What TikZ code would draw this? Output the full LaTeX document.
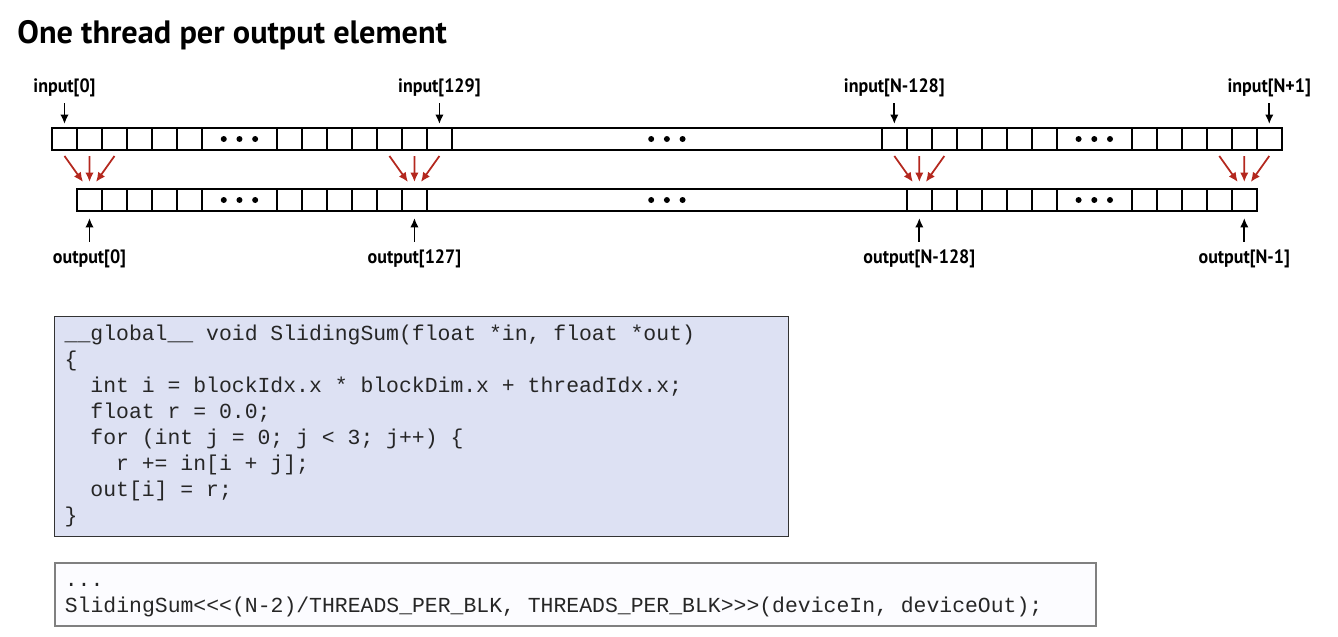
\documentclass[tikz,border=0pt]{standalone}
\usepackage{fontspec}
\setmonofont{Liberation Mono}
\newfontfamily\labfont[FakeStretch=0.93]{PT Sans}
\newfontfamily\titlefont{PT Sans}
\usetikzlibrary{arrows.meta,positioning}

\definecolor{codebg}{RGB}{221,225,243}
\definecolor{callbg}{RGB}{252,252,255}
\definecolor{arrowred}{RGB}{180,40,30}
\newcommand{\ind}{\hspace*{1.2em}}
\newcommand{\codespaces}{\spaceskip=0.6em\xspaceskip=0.6em\relax}

\begin{document}
\begin{tikzpicture}[x=0.02cm,y=-0.02cm,
    cell/.style={draw,line width=0.9pt,minimum width=0.5cm,minimum height=0.44cm,
                 inner sep=0pt,outer sep=0pt},
    gap/.style={cell,minimum width=1.5cm},
    lab/.style={font=\labfont\bfseries\fontsize{11pt}{12pt}\selectfont,
                inner sep=0pt,outer sep=0pt},
    codebox/.style={draw,anchor=north west,align=left,inner xsep=0.2cm,
                    font=\ttfamily\fontsize{12.2pt}{14.8pt}\selectfont,
                    text=black!85,
                    execute at begin node=\codespaces\strut,
                    execute at end node=\strut},
    red arrow/.style={->,draw=arrowred,line width=1pt},
    >={Latex[length=1.9mm,width=1.7mm]}]
  \useasboundingbox (0,0) rectangle (1338,636);

  % title
  \node[anchor=base west,font=\titlefont\bfseries\fontsize{18.4pt}{20pt}\selectfont,
        inner sep=0pt] (title) at (17,43) {One thread per output element};

  % input array
  \node[cell,anchor=west] (ia0) at (52,139) {};
  \foreach \k [remember=\k as \p (initially 0)] in {1,...,5}
    \node[cell,right=0pt of ia\p] (ia\k) {};
  \node[gap,right=0pt of ia5] (ida) {};
  \node[cell,right=0pt of ida] (ib0) {};
  \foreach \k [remember=\k as \p (initially 0)] in {1,...,6}
    \node[cell,right=0pt of ib\p] (ib\k) {};
  \node[cell,minimum width=8.6cm,right=0pt of ib6] (ilong) {};
  \node[cell,right=0pt of ilong] (ic0) {};
  \foreach \k [remember=\k as \p (initially 0)] in {1,...,6}
    \node[cell,right=0pt of ic\p] (ic\k) {};
  \node[gap,right=0pt of ic6] (idc) {};
  \node[cell,right=0pt of idc] (id0) {};
  \foreach \k [remember=\k as \p (initially 0)] in {1,...,5}
    \node[cell,right=0pt of id\p] (id\k) {};

  % output array
  \node[cell,anchor=west] (oa0) at (77,200) {};
  \foreach \k [remember=\k as \p (initially 0)] in {1,...,4}
    \node[cell,right=0pt of oa\p] (oa\k) {};
  \node[gap,right=0pt of oa4] (oda) {};
  \node[cell,right=0pt of oda] (ob0) {};
  \foreach \k [remember=\k as \p (initially 0)] in {1,...,5}
    \node[cell,right=0pt of ob\p] (ob\k) {};
  \node[cell,minimum width=9.6cm,right=0pt of ob5] (olong) {};
  \node[cell,right=0pt of olong] (oc0) {};
  \foreach \k [remember=\k as \p (initially 0)] in {1,...,5}
    \node[cell,right=0pt of oc\p] (oc\k) {};
  \node[gap,right=0pt of oc5] (odc) {};
  \node[cell,right=0pt of odc] (od0) {};
  \foreach \k [remember=\k as \p (initially 0)] in {1,...,4}
    \node[cell,right=0pt of od\p] (od\k) {};

  % dots
  \foreach \g in {ida,ilong,idc,oda,olong,odc}
    \foreach \s in {-1,0,1}
      \fill ([xshift=\s*0.314cm]\g) circle (0.06cm);

  % labels
  \node[lab,above=0.62cm of ia0] (lin0) {input[0]};
  \node[lab,above=0.62cm of ib6] (lin129) {input[129]};
  \node[lab,above=0.62cm of ic0] (linN128) {input[N-128]};
  \node[lab,above=0.62cm of id5] (linN1) {input[N+1]};
  \node[lab,below=0.78cm of oa0] (lout0) {output[0]};
  \node[lab,below=0.78cm of ob5] (lout127) {output[127]};
  \node[lab,below=0.78cm of oc0] (loutN128) {output[N-128]};
  \node[lab,below=0.78cm of od4] (loutN1) {output[N-1]};

  \foreach \l/\c in {lin0/ia0,lin129/ib6,linN128/ic0,linN1/id5}
    \draw[->,line width=1pt,shorten <=0.12cm,shorten >=0.08cm] (\l) -- (\c);
  \foreach \l/\c in {lout0/oa0,lout127/ob5,loutN128/oc0,loutN1/od4}
    \draw[->,line width=1pt,shorten <=0.16cm,shorten >=0.14cm] (\l) -- (\c);

  % three inputs per output
  \foreach \a/\b/\c/\o in {ia0/ia1/ia2/oa0,ib4/ib5/ib6/ob5,ic0/ic1/ic2/oc0,id3/id4/id5/od4} {
    \draw[red arrow] ([yshift=-0.12cm]\a.south) -- ([xshift=-0.13cm,yshift=0.14cm]\o.north);
    \draw[red arrow] ([yshift=-0.12cm]\b.south) -- ([yshift=0.14cm]\o.north);
    \draw[red arrow] ([yshift=-0.12cm]\c.south) -- ([xshift=0.13cm,yshift=0.14cm]\o.north);
  }

  % code
  \node[codebox,fill=codebg,draw=black!80,line width=0.8pt,inner ysep=0.12cm,
        text width=14.28cm] (kernel) at (54,316)
    {\_\_global\_\_ void SlidingSum(float *in, float *out)\\
     \{\\
     \ind int i = blockIdx.x * blockDim.x + threadIdx.x;\\
     \ind float r = 0.0;\\
     \ind for (int j = 0; j < 3; j++) \{\\
     \ind\ind r += in[i + j];\\
     \ind out[i] = r;\\
     \}};
  \node[codebox,fill=callbg,draw=black!50,line width=1pt,inner ysep=0.11cm,
        text width=20.42cm] (launch) at (54,562)
    {...\\
     SlidingSum<<<(N-2)/THREADS\_PER\_BLK, THREADS\_PER\_BLK>>>(deviceIn, deviceOut);};
\end{tikzpicture}
\end{document}
